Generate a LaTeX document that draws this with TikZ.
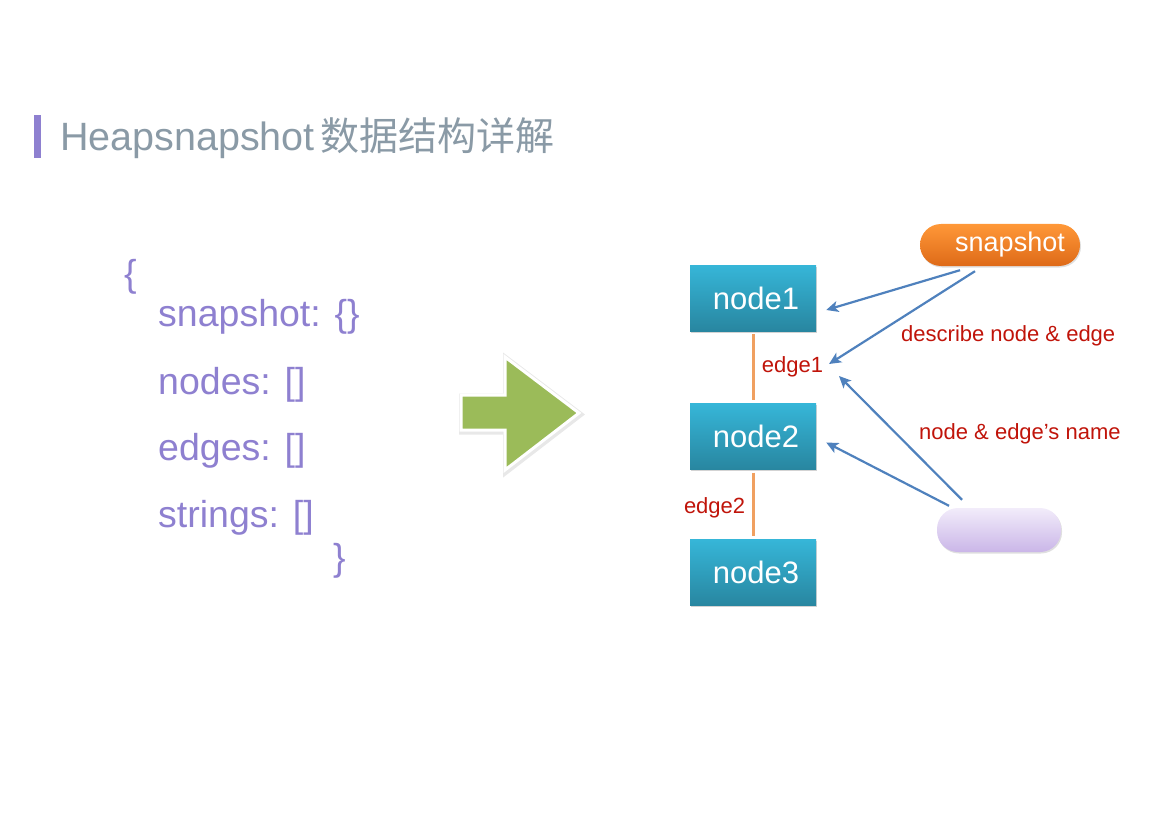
\documentclass[tikz,border=0pt]{standalone}
\usepackage{fontspec}
\setmainfont{Liberation Sans}
\newfontfamily\cjk{Noto Sans CJK SC}
\usetikzlibrary{arrows.meta, shapes, calc, shadows}
\definecolor{mytitle}{RGB}{138,154,166}
\definecolor{mybar}{RGB}{142,128,208}
\definecolor{mypurple}{RGB}{142,128,208}
\definecolor{mygreen}{RGB}{155,187,89}
\definecolor{mytop}{RGB}{54,182,216}
\definecolor{mybottom}{RGB}{40,134,160}
\definecolor{myorange}{RGB}{240,160,96}
\definecolor{myred}{RGB}{192,20,10}
\definecolor{myblue}{RGB}{79,129,189}
\definecolor{snaptop}{RGB}{255,152,56}
\definecolor{snapbottom}{RGB}{222,106,24}
\definecolor{nametop}{RGB}{242,236,250}
\definecolor{namebottom}{RGB}{202,182,232}

\begin{document}
\begin{tikzpicture}[x=1pt, y=-1pt]
\tikzset{ListStyle/.style = {text=mypurple, font=\fontsize{37.5}{37.5}\selectfont, anchor=base west, inner sep=0pt}}
\tikzset{VertexStyle/.style =
    {shape=rectangle, minimum width=126pt, minimum height=66pt, inner sep=0pt,
     top color=mytop, bottom color=mybottom, text=white,
     font=\fontsize{31}{31}\selectfont,
     drop shadow={shadow xshift=1pt, shadow yshift=-1.5pt, opacity=0.35}}
}
\tikzset{PillStyle/.style = {shape=rectangle, rounded corners=21pt, inner sep=0pt,
     drop shadow={shadow xshift=1pt, shadow yshift=-1.5pt, opacity=0.25}}}
\tikzset{EdgeStyle/.style = {draw=myorange, line width=3pt, shorten <=3pt, shorten >=3pt}}
\tikzset{LabelStyle/.style = {text=myred, font=\fontsize{22}{22}\selectfont}}
\tikzset{PointerStyle/.style = {draw=myblue, line width=2.2pt, -{Stealth[length=12pt, width=11pt, inset=3pt]}}}
\useasboundingbox (0,0) rectangle (1169,826);

% title
\fill[mybar] (34,115) rectangle (41,158);
\node[anchor=base west, inner sep=0pt, text=mytitle, font=\fontsize{39.5}{39.5}\selectfont] (title) at (60,151)
    {Heapsnapshot\hspace{6pt}{\cjk\fontsize{39}{39}\selectfont 数据结构详解}};

% left side: json layout
\node[ListStyle] (brace-open) at (124,286) {\{};
\foreach \y/\name/\txt in {326/snapshot/{snapshot: \{\}}, 394/nodes/{nodes: []}, 460/edges/{edges: []}, 527/strings/{strings: []}}
    \node[ListStyle] (list-\name) at (158,\y) {\txt};
\node[ListStyle] (brace-close) at (333,570) {\}};

% green arrow
\draw[black!9, line width=6pt, line join=miter, xshift=1pt, yshift=-1.5pt]
    (461,395) -- (505,395) -- (505,357) -- (579,413) -- (505,470) -- (505,430) -- (461,430) -- cycle;
\draw[white, line width=3pt, fill=mygreen, line join=miter]
    (461,395) -- (505,395) -- (505,357) -- (579,413) -- (505,470) -- (505,430) -- (461,430) -- cycle;

% nodes
\foreach \index/\y in {1/298, 2/436.5, 3/572.5}
    \node[VertexStyle] (G-node\index) at (753,\y) {\hspace*{6pt}node\index};
\draw[EdgeStyle] (G-node1) to node[LabelStyle, right, xshift=4pt]{edge1} (G-node2);
\draw[EdgeStyle] (G-node2) to node[LabelStyle, left, xshift=-3pt, yshift=-3pt]{edge2} (G-node3);
\node[coordinate] (edge1-tip) at (829,367) {};

% pills
\node[PillStyle, minimum width=160pt, minimum height=42pt, top color=snaptop, bottom color=snapbottom,
      text=white, font=\fontsize{27}{27}\selectfont] (P-snapshot) at (1000,245) {\hspace*{20pt}snapshot};
\node[PillStyle, minimum width=124pt, minimum height=44pt, top color=nametop, bottom color=namebottom] (P-strings) at (999,530) {};

% pointers
\draw[PointerStyle] ([xshift=-40pt, yshift=-4pt]P-snapshot.south) to ([xshift=10pt, yshift=-12pt]G-node1.east);
\draw[PointerStyle] ([xshift=-25pt, yshift=-5pt]P-snapshot.south) to ([yshift=3pt]edge1-tip);
\draw[PointerStyle] ([xshift=-37pt, yshift=8pt]P-strings.north) to ([xshift=10pt, yshift=-9pt]edge1-tip);
\draw[PointerStyle] ([xshift=-50pt, yshift=2pt]P-strings.north) to ([xshift=10pt, yshift=-6pt]G-node2.east);

\node[LabelStyle, anchor=base west, inner sep=0pt] (L-describe) at (901,341) {describe node \& edge};
\node[LabelStyle, anchor=base west, inner sep=0pt] (L-name) at (919,439) {node \& edge’s name};
\end{tikzpicture}
\end{document}
